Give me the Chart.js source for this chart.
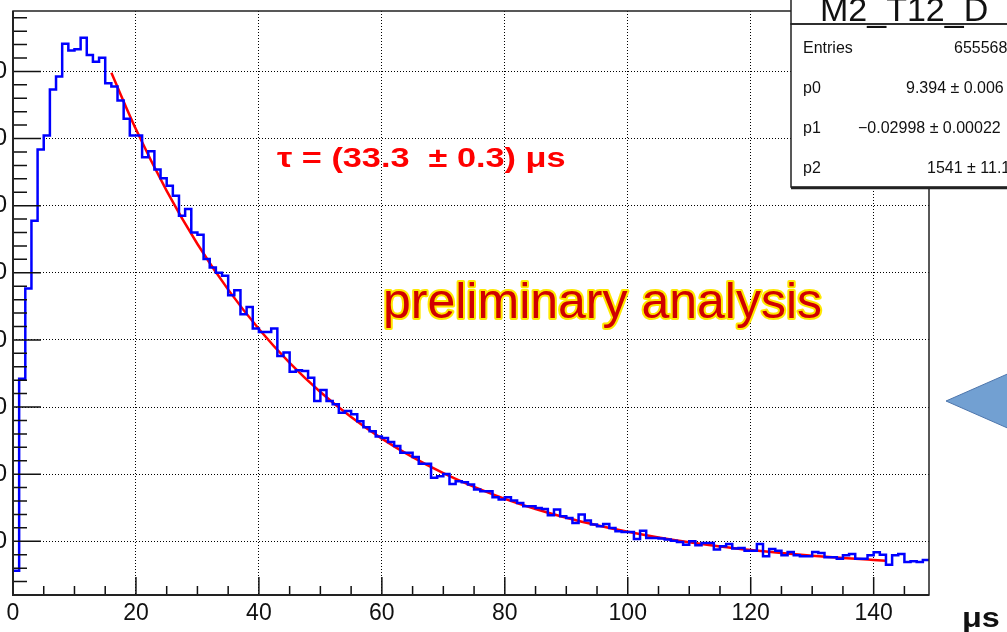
<!DOCTYPE html>
<html>
<head>
<meta charset="utf-8">
<script src="https://cdn.jsdelivr.net/npm/chart.js@4.4.1/dist/chart.umd.min.js"></script>
<style>
  html, body { margin: 0; padding: 0; background: #fff; }
  #wrap { position: relative; width: 1007px; height: 632px; overflow: hidden; }
  #c { position: absolute; left: -67px; top: 0; }
</style>
</head>
<body>
<div id="wrap"><canvas id="c" width="1074" height="632"></canvas></div>
<script>
// counts per 1 us bin, bin i covers [i, i+1)
const binCounts = [
  1560, 4420, 5766, 6776, 7836, 8045, 8731, 8925, 9413, 9313,
  9330, 9500, 9243, 9144, 9204, 8825, 8776, 8567, 8294, 8045,
  8045, 7721, 7811, 7537, 7408, 7298, 7149, 6850, 6950, 6602,
  6567, 6204, 6080, 6000, 5955, 5667, 5741, 5383, 5492, 5169,
  5119, 5119, 5169, 4761, 4811, 4527, 4547, 4537, 4437, 4090,
  4254, 4090, 4040, 3915, 3940, 3891, 3790, 3700, 3640, 3560,
  3540, 3478, 3418, 3318, 3318, 3254, 3154, 3154, 2945, 2970,
  3004, 2855, 2896, 2880, 2846, 2771, 2746, 2746, 2657, 2622,
  2657, 2607, 2572, 2522, 2522, 2497, 2482, 2388, 2473, 2373,
  2348, 2273, 2398, 2308, 2249, 2224, 2258, 2199, 2149, 2139,
  2139, 2035, 2159, 2050, 2050, 2040, 2025, 2010, 1990, 1950,
  2000, 1940, 1975, 1975, 1876, 1925, 1960, 1891, 1900, 1861,
  1861, 1960, 1776, 1885, 1860, 1791, 1840, 1791, 1776, 1776,
  1840, 1825, 1761, 1761, 1741, 1791, 1811, 1741, 1741, 1791,
  1836, 1801, 1652, 1791, 1811, 1691, 1701, 1691, 1721, 1721
];

// red fit curve
const fitX = [16, 20, 25, 30, 35, 40, 45, 50, 55, 60, 65, 70, 75, 80, 85, 90, 95, 100, 105, 110, 115, 120, 125, 130, 135, 140, 142];
const fitY = [8979, 8138, 7220, 6429, 5749, 5163, 4659, 4225, 3852, 3530, 3253, 3014, 2810, 2633, 2481, 2350, 2238, 2141, 2057, 1985, 1923, 1870, 1824, 1785, 1751, 1722, 1711];

const xTicks = [0, 20, 40, 60, 80, 100, 120, 140];
const yTicks = [2000, 3000, 4000, 5000, 6000, 7000, 8000, 9000];
const xMin = 0, xMax = 149, xMinorStep = 5;
const yMin = 1200, yMax = 9900, yMinorStep = 200;

const histTitle = "M2_T12_D";
const statsLabels = ["Entries", "p0", "p1", "p2"];
const statsValues = ["655568", "9.394 \u00b1 0.006", "\u22120.02998 \u00b1 0.00022", "1541 \u00b1 11.1"];
const tauText = "\u03c4 = (33.3  \u00b1 0.3) \u03bcs";
const noteText = "preliminary analysis";
const xUnit = "\u03bcs";

const SHIFT = 67; // canvas is moved left so the y labels get cut like in the picture
const FONT = '"Liberation Sans", Arial, sans-serif';

const histPoints = [{ x: 0, y: binCounts[0] }];
binCounts.forEach((v, i) => histPoints.push({ x: i + 0.5, y: v }));
histPoints.push({ x: binCounts.length, y: binCounts[binCounts.length - 1] });

const fitPoints = fitX.map((x, i) => ({ x: x, y: fitY[i] }));

// text squeezed/stretched sideways to fit the picture
function wideText(ctx, text, x, y, sx) {
  ctx.save();
  ctx.translate(x, y);
  ctx.scale(sx, 1);
  ctx.fillText(text, 0, 0);
  ctx.restore();
}

const overlay = {
  id: 'overlay',
  afterDraw(chart) {
    const ctx = chart.ctx, a = chart.chartArea;
    const xs = chart.scales.x, ys = chart.scales.y;
    ctx.save();

    // ticks drawn inside the frame
    ctx.strokeStyle = '#111';
    ctx.lineWidth = 1.5;
    ctx.beginPath();
    for (let v = yMin + yMinorStep; v < yMax; v += yMinorStep) {
      const y = ys.getPixelForValue(v);
      const len = yTicks.includes(v) ? 28 : 14;
      ctx.moveTo(a.left, y);
      ctx.lineTo(a.left + len, y);
    }
    for (let v = xMin; v <= xMax; v += xMinorStep) {
      const x = xs.getPixelForValue(v);
      const len = xTicks.includes(v) ? 18 : 9;
      ctx.moveTo(x, a.bottom);
      ctx.lineTo(x, a.bottom - len);
    }
    ctx.stroke();

    // frame
    ctx.lineWidth = 1.5;
    ctx.strokeStyle = '#222';
    ctx.strokeRect(a.left, a.top, a.right - a.left, a.bottom - a.top);
    ctx.lineWidth = 2;
    ctx.beginPath();
    ctx.moveTo(a.left, a.top);
    ctx.lineTo(a.left, a.bottom);
    ctx.lineTo(a.right, a.bottom);
    ctx.stroke();

    ctx.translate(SHIFT, 0);

    // title + stats box
    ctx.fillStyle = '#fff';
    ctx.fillRect(791, -5, 230, 192);
    ctx.strokeStyle = '#222';
    ctx.lineWidth = 1.5;
    ctx.strokeRect(791, -5, 230, 29);
    ctx.strokeRect(791, 24, 230, 163);
    ctx.lineWidth = 2.5;
    ctx.beginPath();
    ctx.moveTo(791, 188);
    ctx.lineTo(1010, 188);
    ctx.stroke();

    ctx.fillStyle = '#111';
    ctx.textBaseline = 'alphabetic';
    ctx.textAlign = 'left';
    ctx.font = '34px ' + FONT;
    ctx.fillText(histTitle, 820, 21);

    ctx.font = '16px ' + FONT;
    const rowY = [53, 93, 133, 173];
    const valX = [954, 906, 858, 927];
    statsLabels.forEach((t, i) => {
      ctx.fillText(t, 803, rowY[i]);
      ctx.fillText(statsValues[i], valX[i], rowY[i]);
    });

    // fit result
    ctx.fillStyle = '#ff0000';
    ctx.font = 'bold 27px ' + FONT;
    wideText(ctx, tauText, 277, 167, 1.27);

    // note
    ctx.font = '50px ' + FONT;
    ctx.lineJoin = 'round';
    ctx.strokeStyle = '#ffe800';
    ctx.lineWidth = 4;
    ctx.strokeText(noteText, 383, 318);
    ctx.fillStyle = '#d00000';
    ctx.fillText(noteText, 383, 318);

    // unit label
    ctx.fillStyle = '#111';
    ctx.font = 'bold 27px ' + FONT;
    wideText(ctx, xUnit, 962, 627, 1.2);

    // arrow
    ctx.beginPath();
    ctx.moveTo(946, 401);
    ctx.lineTo(1012, 372);
    ctx.lineTo(1012, 430);
    ctx.closePath();
    ctx.fillStyle = 'rgb(114,160,210)';
    ctx.fill();
    ctx.strokeStyle = 'rgb(78,118,172)';
    ctx.lineWidth = 1;
    ctx.stroke();

    ctx.restore();
  }
};

new Chart(document.getElementById('c'), {
  type: 'line',
  data: {
    datasets: [
      {
        data: histPoints,
        borderColor: '#0000ff',
        borderWidth: 2.5,
        pointRadius: 0,
        stepped: 'middle',
        fill: false
      },
      {
        data: fitPoints,
        borderColor: '#ff0000',
        borderWidth: 2.5,
        pointRadius: 0,
        tension: 0.4,
        cubicInterpolationMode: 'monotone',
        fill: false
      }
    ]
  },
  options: {
    responsive: false,
    animation: false,
    layout: { padding: { left: 0, right: 78, top: 11, bottom: 0 } },
    plugins: { legend: { display: false }, tooltip: { enabled: false } },
    scales: {
      x: {
        type: 'linear',
        min: xMin,
        max: xMax,
        afterFit: (s) => { s.height = 37; s.paddingLeft = 0; s.paddingRight = 0; },
        afterBuildTicks: (s) => { s.ticks = xTicks.map(v => ({ value: v })); },
        grid: { color: '#000', lineWidth: 1, drawTicks: false },
        border: { display: false, dash: [1, 2] },
        ticks: {
          autoSkip: false,
          maxRotation: 0,
          padding: 5,
          color: '#111',
          font: { family: FONT, size: 23 },
          callback: (v) => String(v)
        }
      },
      y: {
        type: 'linear',
        min: yMin,
        max: yMax,
        afterFit: (s) => { s.width = 80; s.paddingTop = 0; s.paddingBottom = 0; },
        afterBuildTicks: (s) => { s.ticks = yTicks.map(v => ({ value: v })); },
        grid: { color: '#000', lineWidth: 1, drawTicks: false },
        border: { display: false, dash: [1, 2] },
        ticks: {
          autoSkip: false,
          padding: 6,
          color: '#111',
          font: { family: FONT, size: 24 },
          callback: (v) => String(v)
        }
      }
    }
  },
  plugins: [overlay]
});
</script>
</body>
</html>
